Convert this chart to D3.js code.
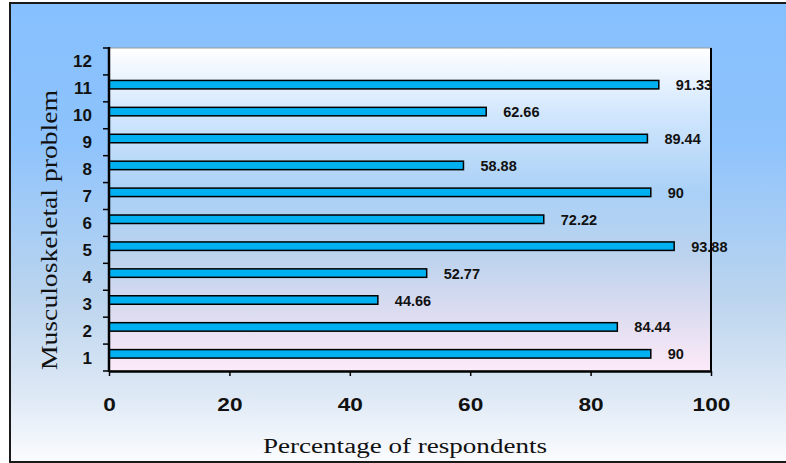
<!DOCTYPE html>
<html>
<head>
<meta charset="utf-8">
<script src="https://cdn.jsdelivr.net/npm/d3@7"></script>
<style>
  html, body { margin: 0; padding: 0; background: #ffffff; }
  svg { display: block; }
</style>
</head>
<body>
<svg id="chart" width="786" height="463"></svg>
<script>
// Musculoskeletal problems: share of respondents reporting each one
const categories = ["1", "2", "3", "4", "5", "6", "7", "8", "9", "10", "11", "12"];
const values = [90, 84.44, 44.66, 52.77, 93.88, 72.22, 90, 58.88, 89.44, 62.66, 91.33, null];
const valueLabels = ["90", "84.44", "44.66", "52.77", "93.88", "72.22", "90", "58.88", "89.44", "62.66", "91.33", ""];
const xTicks = [0, 20, 40, 60, 80, 100];
const xTitle = "Percentage of respondents";
const yTitle = "Musculoskeletal problem";

const sans = "'Liberation Sans', Arial, sans-serif";
const serif = "'Liberation Serif', 'Times New Roman', serif";

const svg = d3.select("#chart");
const plot = { left: 109, right: 711, top: 48, bottom: 371 };

const defs = svg.append("defs");
const outerGrad = defs.append("linearGradient").attr("id", "outerBg")
  .attr("x1", 0).attr("y1", 0).attr("x2", 0).attr("y2", 1);
[[0, "#86c0fe"], [0.3, "#8ec3fc"], [0.65, "#bcd5ee"], [0.85, "#dde8f5"], [1, "#fbfcfe"]]
  .forEach(([o, c]) => outerGrad.append("stop").attr("offset", o).attr("stop-color", c));

const plotGrad = defs.append("linearGradient").attr("id", "plotBg")
  .attr("x1", 0).attr("y1", 0).attr("x2", 0).attr("y2", 1);
[[0, "#ffffff"], [0.2, "#d2e7fd"], [0.45, "#a9d0f6"], [0.65, "#bdd3ee"], [0.82, "#dcdcf0"], [1, "#fdeaf8"]]
  .forEach(([o, c]) => plotGrad.append("stop").attr("offset", o).attr("stop-color", c));

// frame around the whole chart
svg.append("rect")
  .attr("x", 10).attr("y", 3).attr("width", 800).attr("height", 459)
  .attr("fill", "url(#outerBg)").attr("stroke", "#1a1a1a").attr("stroke-width", 2);

// plot area
svg.append("rect")
  .attr("x", plot.left).attr("y", plot.top)
  .attr("width", plot.right - plot.left).attr("height", plot.bottom - plot.top)
  .attr("fill", "url(#plotBg)").attr("stroke", "#9a9a9a").attr("stroke-width", 1);
svg.append("line")
  .attr("x1", plot.right).attr("x2", plot.right)
  .attr("y1", plot.top).attr("y2", plot.bottom)
  .attr("stroke", "#000").attr("stroke-width", 2);

const x = d3.scaleLinear().domain([0, 100]).range([plot.left, plot.right]);
const y = d3.scaleBand().domain(categories).range([plot.bottom, plot.top]).padding(0);
const bw = y.bandwidth();

const rows = categories.map((c, i) => ({ c, v: values[i], label: valueLabels[i] }))
  .filter(d => d.v != null);

const barOffset = bw * 0.205, barH = bw * 0.315;

svg.append("g").selectAll("rect").data(rows).join("rect")
  .attr("x", x(0))
  .attr("y", d => y(d.c) + barOffset)
  .attr("width", d => x(d.v) - x(0))
  .attr("height", barH)
  .attr("fill", "#00b0f0")
  .attr("stroke", "#000").attr("stroke-width", 1.5);

svg.append("g").selectAll("text").data(rows).join("text")
  .attr("x", d => x(d.v) + 17)
  .attr("y", d => y(d.c) + barOffset + barH / 2 + 5.5)
  .attr("font-family", sans)
  .attr("font-weight", "bold").attr("font-size", 14.5)
  .attr("fill", "#111")
  .text(d => d.label);

// y axis: ticks sit on category boundaries, labels at band centres
const yAxis = svg.append("g");
const bounds = categories.map(c => y(c)).concat([plot.bottom]);
yAxis.selectAll("line.tick").data(bounds).join("line")
  .attr("x1", plot.left - 6).attr("x2", plot.left)
  .attr("y1", d => d).attr("y2", d => d)
  .attr("stroke", "#000").attr("stroke-width", 1.5);
yAxis.selectAll("text").data(categories).join("text")
  .attr("x", 92)
  .attr("y", c => y(c) + bw / 2 + 6)
  .attr("text-anchor", "end")
  .attr("font-family", sans)
  .attr("font-weight", "bold").attr("font-size", 17)
  .attr("fill", "#111")
  .text(c => c);
yAxis.append("line")
  .attr("x1", plot.left).attr("x2", plot.left)
  .attr("y1", plot.top - 1).attr("y2", plot.bottom + 1)
  .attr("stroke", "#000").attr("stroke-width", 2.5);

// x axis
const xAxis = svg.append("g").attr("transform", `translate(0,${plot.bottom})`)
  .call(d3.axisBottom(x).tickValues(xTicks).tickSize(5).tickSizeOuter(0).tickPadding(22));
xAxis.select(".domain").attr("stroke", "#000").attr("stroke-width", 2.5);
xAxis.selectAll(".tick line").attr("stroke", "#000").attr("stroke-width", 1.5);
xAxis.selectAll(".tick text")
  .attr("font-family", sans)
  .attr("font-weight", "bold").attr("font-size", 19)
  .attr("fill", "#111")
  .attr("textLength", d => String(d).length * 12.6)
  .attr("lengthAdjust", "spacingAndGlyphs");

// axis titles
svg.append("text")
  .attr("x", 405).attr("y", 453)
  .attr("text-anchor", "middle")
  .attr("font-family", serif)
  .attr("font-size", 20).attr("fill", "#111")
  .attr("textLength", 284).attr("lengthAdjust", "spacingAndGlyphs")
  .text(xTitle);

svg.append("text")
  .attr("transform", "translate(57,230) rotate(-90)")
  .attr("text-anchor", "middle")
  .attr("font-family", serif)
  .attr("font-size", 24).attr("fill", "#111")
  .attr("textLength", 280).attr("lengthAdjust", "spacingAndGlyphs")
  .text(yTitle);
</script>
</body>
</html>
